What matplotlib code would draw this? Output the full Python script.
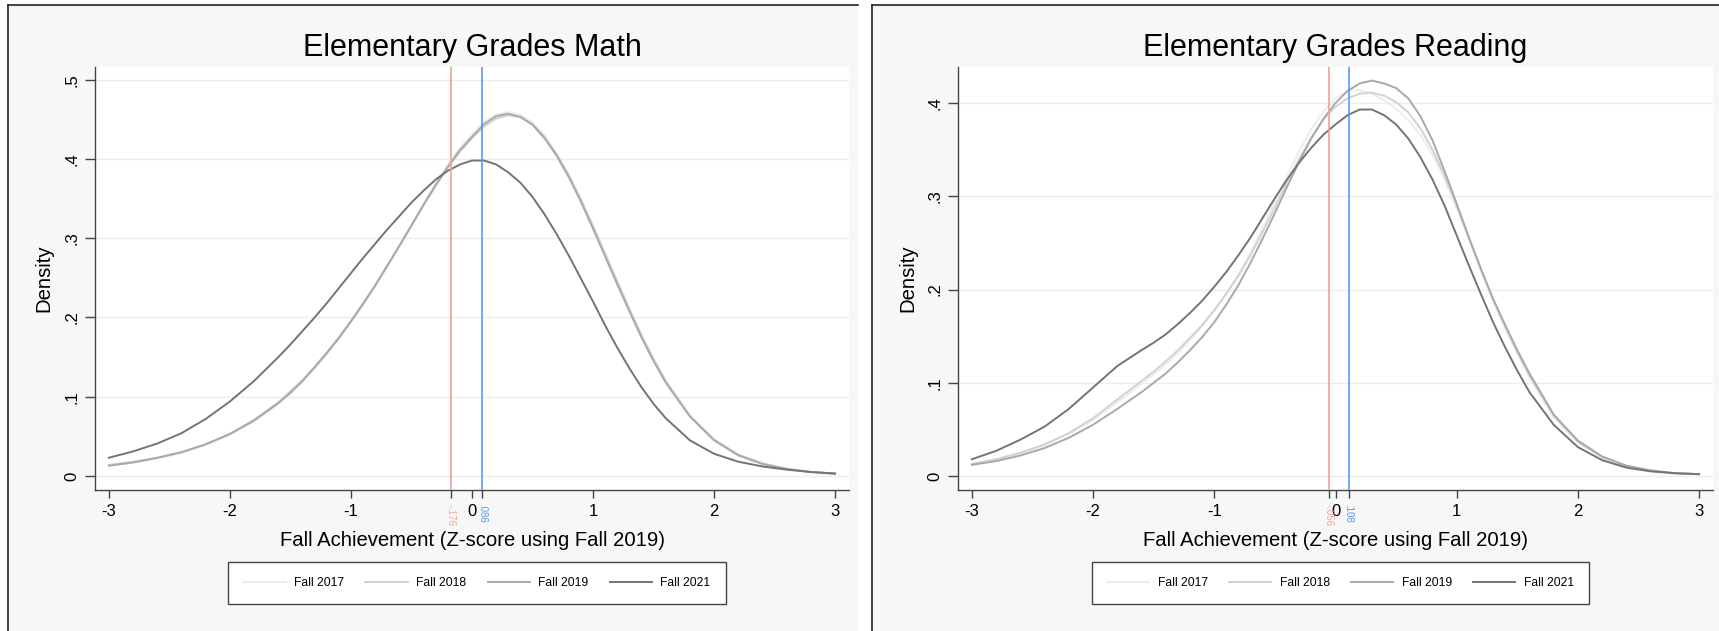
import matplotlib
matplotlib.use("Agg")
import matplotlib.pyplot as plt
from matplotlib.patches import Rectangle
from matplotlib.lines import Line2D

plt.rcParams['font.family'] = ['Liberation Sans', 'DejaVu Sans']

# ---------------- data ----------------
z = [-3.0, -2.8, -2.6, -2.4, -2.2, -2.0, -1.8,
     -1.6, -1.5, -1.4, -1.3, -1.2, -1.1, -1.0, -0.9, -0.8, -0.7, -0.6, -0.5, -0.4,
     -0.3, -0.2, -0.1, 0.0, 0.1, 0.2, 0.3, 0.4, 0.5, 0.6, 0.7, 0.8, 0.9, 1.0,
     1.1, 1.2, 1.3, 1.4, 1.5, 1.6,
     1.8, 2.0, 2.2, 2.4, 2.6, 2.8, 3.0]

series_names = ["Fall 2017", "Fall 2018", "Fall 2019", "Fall 2021"]

math_2017 = [0.013, 0.017, 0.022, 0.029, 0.039, 0.052, 0.069,
             0.091, 0.104, 0.119, 0.136, 0.154, 0.173, 0.194, 0.216, 0.240, 0.265, 0.291, 0.317, 0.344,
             0.370, 0.393, 0.414, 0.431, 0.447, 0.456, 0.459, 0.456, 0.446, 0.429, 0.406, 0.379, 0.348, 0.314,
             0.279, 0.244, 0.210, 0.177, 0.147, 0.120,
             0.077, 0.046, 0.027, 0.016, 0.009, 0.005, 0.003]
math_2018 = [0.014, 0.018, 0.023, 0.030, 0.040, 0.053, 0.071,
             0.093, 0.107, 0.121, 0.138, 0.156, 0.175, 0.196, 0.218, 0.241, 0.266, 0.291, 0.316, 0.342,
             0.366, 0.389, 0.409, 0.426, 0.441, 0.451, 0.455, 0.453, 0.444, 0.428, 0.406, 0.380, 0.349, 0.316,
             0.281, 0.246, 0.211, 0.178, 0.148, 0.120,
             0.076, 0.046, 0.027, 0.016, 0.009, 0.005, 0.003]
math_2019 = [0.013, 0.017, 0.023, 0.030, 0.040, 0.053, 0.070,
             0.092, 0.105, 0.120, 0.137, 0.155, 0.174, 0.195, 0.217, 0.240, 0.265, 0.290, 0.316, 0.342,
             0.367, 0.390, 0.411, 0.428, 0.444, 0.454, 0.457, 0.453, 0.443, 0.426, 0.404, 0.377, 0.346, 0.312,
             0.277, 0.242, 0.208, 0.175, 0.145, 0.118,
             0.075, 0.045, 0.026, 0.015, 0.009, 0.005, 0.003]
math_2021 = [0.023, 0.031, 0.041, 0.054, 0.072, 0.094, 0.120,
             0.150, 0.166, 0.183, 0.200, 0.218, 0.237, 0.256, 0.275, 0.293, 0.311, 0.328, 0.345, 0.360,
             0.374, 0.385, 0.393, 0.398, 0.398, 0.393, 0.383, 0.370, 0.352, 0.330, 0.305, 0.278, 0.249, 0.220,
             0.190, 0.162, 0.136, 0.112, 0.091, 0.073,
             0.045, 0.028, 0.018, 0.012, 0.008, 0.005, 0.003]

read_2017 = [0.013, 0.018, 0.024, 0.033, 0.045, 0.060, 0.079,
             0.099, 0.109, 0.120, 0.132, 0.146, 0.161, 0.177, 0.195, 0.216, 0.240, 0.266, 0.294, 0.322,
             0.348, 0.372, 0.391, 0.405, 0.413, 0.414, 0.410, 0.403, 0.394, 0.382, 0.366, 0.345, 0.318, 0.287,
             0.254, 0.220, 0.188, 0.158, 0.131, 0.106,
             0.063, 0.036, 0.020, 0.011, 0.006, 0.003, 0.002]
read_2018 = [0.013, 0.018, 0.025, 0.034, 0.046, 0.062, 0.082,
             0.102, 0.112, 0.123, 0.135, 0.148, 0.162, 0.178, 0.196, 0.215, 0.237, 0.262, 0.288, 0.315,
             0.340, 0.363, 0.382, 0.396, 0.405, 0.410, 0.411, 0.408, 0.401, 0.390, 0.373, 0.350, 0.322, 0.290,
             0.256, 0.222, 0.190, 0.160, 0.133, 0.108,
             0.065, 0.037, 0.020, 0.011, 0.006, 0.003, 0.002]
read_2019 = [0.012, 0.016, 0.022, 0.030, 0.041, 0.055, 0.072,
             0.090, 0.100, 0.110, 0.122, 0.135, 0.149, 0.165, 0.184, 0.205, 0.229, 0.255, 0.282, 0.310,
             0.337, 0.362, 0.383, 0.400, 0.413, 0.421, 0.424, 0.421, 0.416, 0.405, 0.386, 0.360, 0.327, 0.292,
             0.256, 0.222, 0.190, 0.162, 0.135, 0.110,
             0.066, 0.038, 0.021, 0.011, 0.006, 0.003, 0.002]
read_2021 = [0.018, 0.027, 0.039, 0.053, 0.072, 0.095, 0.118,
             0.135, 0.143, 0.152, 0.163, 0.175, 0.188, 0.203, 0.219, 0.237, 0.256, 0.277, 0.298, 0.318,
             0.336, 0.352, 0.366, 0.377, 0.387, 0.393, 0.393, 0.387, 0.377, 0.362, 0.342, 0.318, 0.290, 0.258,
             0.226, 0.195, 0.165, 0.138, 0.113, 0.090,
             0.055, 0.031, 0.017, 0.009, 0.005, 0.003, 0.002]

math_means = [-0.176, 0.086]      # red, blue reference lines
math_mean_labels = ["-.176", ".086"]
read_means = [-0.056, 0.108]
read_mean_labels = ["-.056", ".108"]

x_ticks = [-3, -2, -1, 0, 1, 2, 3]
x_tick_labels = ["-3", "-2", "-1", "0", "1", "2", "3"]
math_y_ticks = [0, 0.1, 0.2, 0.3, 0.4, 0.5]
math_y_labels = ["0", ".1", ".2", ".3", ".4", ".5"]
read_y_ticks = [0, 0.1, 0.2, 0.3, 0.4]
read_y_labels = ["0", ".1", ".2", ".3", ".4"]

titles = ["Elementary Grades Math", "Elementary Grades Reading"]
xlabel = "Fall Achievement (Z-score using Fall 2019)"
ylabel = "Density"

# ---------------- style ----------------
W, H = 1719, 631
line_colors = ["#ececec", "#d2d2d2", "#a9a9a9", "#747474"]
mean_colors = ["#f4a09a", "#5a9af2"]
panel_bg = "#f7f7f7"
axis_col = "#444444"

fig = plt.figure(figsize=(W / 100, H / 100), dpi=100)
fig.patch.set_facecolor("white")

def fx(px):
    return px / W

def fy(py):
    return 1 - py / H

# panel backgrounds and borders
for (x0, x1) in [(8, 858), (872, 1719)]:
    fig.patches.append(Rectangle((fx(x0), 0), fx(x1 - x0), fy(5), transform=fig.transFigure,
                                 facecolor=panel_bg, edgecolor="none", zorder=-10))
    fig.lines.append(Line2D([fx(x0), fx(x0)], [0, fy(5)], transform=fig.transFigure,
                            color="#222222", lw=1.2, zorder=-9))
    fig.lines.append(Line2D([fx(x0), fx(x1)], [fy(5), fy(5)], transform=fig.transFigure,
                            color="#222222", lw=1.2, zorder=-9))

panels = [
    dict(rect=[fx(95), fy(490), fx(849 - 95), (490 - 67) / H], ylim=(-0.0177, 0.516),
         data=[math_2017, math_2018, math_2019, math_2021], means=math_means,
         mean_labels=math_mean_labels, yt=math_y_ticks, ytl=math_y_labels,
         title=titles[0], ylab_x=44),
    dict(rect=[fx(958), fy(490), fx(1713 - 958), (490 - 67) / H], ylim=(-0.015, 0.4386),
         data=[read_2017, read_2018, read_2019, read_2021], means=read_means,
         mean_labels=read_mean_labels, yt=read_y_ticks, ytl=read_y_labels,
         title=titles[1], ylab_x=908),
]

for p in panels:
    ax = fig.add_axes(p["rect"], zorder=1)
    ax.set_facecolor("white")
    ax.set_xlim(-3.115, 3.115)
    ax.set_ylim(*p["ylim"])
    for yv in p["yt"]:
        ax.axhline(yv, color="#ededed", lw=1.0, zorder=0.5)
    handles = []
    for vals, col, name in zip(p["data"], line_colors, series_names):
        h, = ax.plot(z, vals, color=col, lw=1.4, zorder=2, label=name,
                     solid_joinstyle="round")
        handles.append(h)
    for mv, mc in zip(p["means"], mean_colors):
        ax.axvline(mv, color=mc, lw=1.2, zorder=3)

    for s in ["top", "right"]:
        ax.spines[s].set_visible(False)
    for s in ["left", "bottom"]:
        ax.spines[s].set_color(axis_col)
        ax.spines[s].set_linewidth(1.0)

    ticks = x_ticks + p["means"]
    labels = x_tick_labels + p["mean_labels"]
    ax.set_xticks(ticks)
    ax.set_xticklabels(labels)
    ax.tick_params(axis="x", length=6, width=1.0, color=axis_col, labelsize=12, pad=4)
    tls = ax.get_xticklabels()
    for tl, mc in zip(tls[len(x_ticks):], mean_colors):
        tl.set_color(mc)
        tl.set_rotation(270)
        tl.set_fontsize(7)

    ax.set_yticks(p["yt"])
    ax.set_yticklabels(p["ytl"], rotation=90, va="center")
    ax.tick_params(axis="y", length=7, width=1.0, color=axis_col, labelsize=12, pad=4)

    pos = ax.get_position()
    cx = (pos.x0 + pos.x1) / 2
    fig.text(cx, fy(48), p["title"], ha="center", va="center", fontsize=22)
    fig.text(cx, fy(540), xlabel, ha="center", va="center", fontsize=14.6)
    fig.text(fx(p["ylab_x"]), (pos.y0 + pos.y1) / 2, ylabel, ha="center", va="center",
             rotation=90, fontsize=14.6)

    leg = fig.legend(handles=handles, labels=series_names, loc="center",
                     bbox_to_anchor=(cx + fx(5), fy(583)), bbox_transform=fig.transFigure,
                     ncol=4, fontsize=8.7, frameon=True, fancybox=False,
                     handlelength=3.5, handletextpad=0.7, columnspacing=1.75,
                     borderpad=1.25)
    fr = leg.get_frame()
    fr.set_edgecolor("#444444")
    fr.set_linewidth(1.0)
    fr.set_facecolor("white")
    fr.set_alpha(1)

fig.savefig("out.png", dpi=100, facecolor=fig.get_facecolor())
